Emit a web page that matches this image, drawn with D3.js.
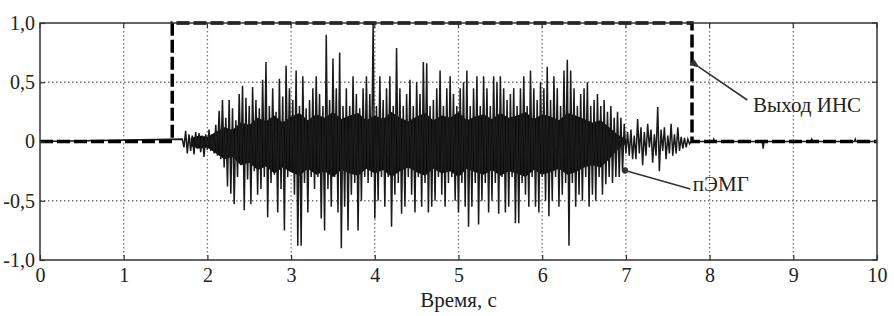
<!DOCTYPE html>
<html>
<head>
<meta charset="utf-8">
<script src="https://cdn.jsdelivr.net/npm/d3@7"></script>
<style>
  body { margin: 0; background: #fff; }
  svg { display: block; }
  svg text { font-family: "Liberation Serif", "DejaVu Serif", serif; }
</style>
</head>
<body>
<svg id="chart" width="894" height="316"></svg>
<script>
// ticks
const xTicks = [0, 1, 2, 3, 4, 5, 6, 7, 8, 9, 10];
const yTicks = [-1, -0.5, 0, 0.5, 1];
const yTickLabels = ['-1,0', '-0,5', '0', '0,5', '1,0'];
const xLabel = 'Время, с';
const serif = '"Liberation Serif", "DejaVu Serif", serif';

// ИНС output (step)
const insTime = [0, 1.58, 1.58, 7.79, 7.79, 10];
const insValue = [0, 0, 1, 1, 0, 0];

// пЭМГ, sampled every 0.02 s starting at 1.70 s
const emgStart = 1.70;
const emgStep = 0.02;
const emgValues = [
    0.02, -0.05, 0.09, -0.10, 0.06, -0.08, 0.05, -0.11, 0.08, -0.06,
    0.07, -0.09, 0.05, -0.13, 0.06, -0.07, 0.10, -0.08, 0.06, -0.10,
    0.14, -0.12, 0.26, -0.15, 0.35, -0.22, 0.20, -0.38, 0.35, -0.44,
    0.28, -0.53, 0.18, -0.30, 0.40, -0.20, 0.47, -0.58, 0.37, -0.32,
    0.30, -0.53, 0.46, -0.25, 0.35, -0.45, 0.28, -0.40, 0.52, -0.30,
    0.67, -0.64, 0.30, -0.35, 0.45, -0.28, 0.25, -0.60, 0.53, -0.40,
    0.38, -0.75, 0.64, -0.30, 0.45, -0.25, 0.35, -0.45, 0.60, -0.88,
    0.30, -0.88, 0.55, -0.35, 0.28, -0.60, 0.35, -0.30, 0.45, -0.40,
    0.55, -0.30, 0.40, -0.65, 0.30, -0.75, 0.90, -0.40, 0.35, -0.55,
    0.70, -0.30, 0.45, -0.60, 0.75, -0.90, 0.30, -0.55, 0.45, -0.75,
    0.30, -0.45, 0.55, -0.35, 0.40, -0.75, 0.28, -0.50, 0.45, -0.30,
    0.55, -0.35, 0.40, -0.30, 1.00, -0.65, 0.30, -0.50, 0.55, -0.30,
    0.35, -0.55, 0.45, -0.30, 0.55, -0.72, 0.30, -0.45, 0.79, -0.35,
    0.45, -0.61, 0.30, -0.55, 0.40, -0.30, 0.52, -0.45, 0.30, -0.60,
    0.50, -0.30, 0.40, -0.55, 0.67, -0.35, 0.66, -0.60, 0.30, -0.55,
    0.35, -0.50, 0.45, -0.30, 0.60, -0.45, 0.30, -0.55, 0.45, -0.35,
    0.55, -0.30, 0.40, -0.50, 0.30, -0.60, 0.45, -0.35, 0.50, -0.55,
    0.60, -0.72, 0.30, -0.55, 0.45, -0.35, 0.55, -0.70, 0.30, -0.50,
    0.55, -0.35, 0.45, -0.60, 0.30, -0.50, 0.55, -0.35, 0.50, -0.61,
    0.55, -0.30, 0.45, -0.60, 0.35, -0.55, 0.40, -0.30, 0.45, -0.69,
    0.30, -0.69, 0.45, -0.35, 0.55, -0.45, 0.30, -0.55, 0.60, -0.30,
    0.45, -0.55, 0.35, -0.60, 0.50, -0.30, 0.45, -0.50, 0.63, -0.63,
    0.35, -0.50, 0.55, -0.30, 0.45, -0.55, 0.30, -0.45, 0.60, -0.35,
    0.69, -0.88, 0.60, -0.35, 0.45, -0.55, 0.30, -0.45, 0.40, -0.50,
    0.45, -0.30, 0.50, -0.55, 0.30, -0.45, 0.35, -0.50, 0.40, -0.30,
    0.30, -0.45, 0.35, -0.36, 0.25, -0.30, 0.30, -0.35, 0.20, -0.30,
    0.25, -0.30, 0.20, -0.25, 0.15, -0.10, 0.08, -0.12, 0.10, -0.15,
    0.05, -0.15, 0.19, -0.10, 0.12, -0.20, 0.08, -0.12, 0.15, -0.05,
    0.10, -0.18, 0.06, -0.12, 0.29, -0.25, 0.10, -0.08, 0.12, -0.15,
    0.05, -0.10, 0.15, -0.12, 0.06, -0.10, 0.12, -0.08, 0.04, -0.06,
    0.03, -0.05, 0.02, -0.02, 0.00
];
// dense black core of the burst, read every 0.1 s (jagged edge)
const coreStart = 1.8;
const coreStep = 0.1;
const coreTop = [
    0.03, 0.05, 0.04, 0.08, 0.12, 0.10, 0.16, 0.14, 0.20, 0.17,
    0.22, 0.16, 0.21, 0.24, 0.18, 0.23, 0.20, 0.25, 0.19, 0.22,
    0.24, 0.18, 0.22, 0.19, 0.25, 0.20, 0.17, 0.21, 0.24, 0.18,
    0.22, 0.20, 0.25, 0.18, 0.21, 0.23, 0.19, 0.24, 0.20, 0.22,
    0.25, 0.19, 0.23, 0.21, 0.18, 0.24, 0.22, 0.19, 0.16, 0.18,
    0.12, 0.06, 0.02
];
const coreBottom = [
    -0.04, -0.06, -0.05, -0.10, -0.15, -0.13, -0.20, -0.18, -0.24, -0.21,
    -0.27, -0.22, -0.26, -0.29, -0.23, -0.28, -0.25, -0.30, -0.24, -0.27,
    -0.29, -0.23, -0.27, -0.24, -0.30, -0.25, -0.22, -0.26, -0.29, -0.23,
    -0.27, -0.25, -0.30, -0.23, -0.26, -0.28, -0.24, -0.29, -0.25, -0.27,
    -0.30, -0.24, -0.28, -0.26, -0.23, -0.28, -0.26, -0.22, -0.20, -0.22,
    -0.15, -0.07, -0.02
];
// small blips on the baseline after the burst
const blipTime = [8.05, 8.64, 9.22, 9.74];
const blipValue = [0.02, -0.06, 0.02, 0.02];

// annotations: arrow tip, arrow tail, text anchor (data units)
const notes = [
    { text: 'Выход ИНС', tip: [7.87, 0.63], tail: [8.45, 0.35], pos: [8.52, 0.245], arrow: true },
    { text: 'пЭМГ', tip: [6.99, -0.245], tail: [7.77, -0.40], pos: [7.80, -0.415], arrow: false }
];

class Chart {
    constructor() {
        this.svg = d3.select('#chart');
        this.margin = { left: 40, right: 17, top: 23, bottom: 56 };
        this.width = 894 - this.margin.left - this.margin.right;
        this.height = 316 - this.margin.top - this.margin.bottom;

        this.scaleX = d3.scaleLinear().domain([0, 10]).range([0, this.width]);
        this.scaleY = d3.scaleLinear().domain([-1, 1]).range([this.height, 0]);

        this.g = this.svg.append('g')
            .attr('transform', `translate(${this.margin.left},${this.margin.top})`);

        this.drawGrid();
        this.drawSignals();
        this.drawFrame();
        this.drawNotes();
    }

    drawGrid() {
        let grid = this.g.append('g');
        grid.selectAll('line.gx')
            .data(xTicks.filter(d => d > 0 && d < 10))
            .join('line')
            .attr('x1', d => this.scaleX(d))
            .attr('x2', d => this.scaleX(d))
            .attr('y1', 0)
            .attr('y2', this.height)
            .style('stroke', '#777')
            .style('stroke-width', 1.3)
            .style('stroke-dasharray', '1.5,2.5');
        grid.selectAll('line.gy')
            .data(yTicks.filter(d => d !== 0 && Math.abs(d) < 1))
            .join('line')
            .attr('x1', 0)
            .attr('x2', this.width)
            .attr('y1', d => this.scaleY(d))
            .attr('y2', d => this.scaleY(d))
            .style('stroke', '#777')
            .style('stroke-width', 1.3)
            .style('stroke-dasharray', '1.5,2.5');
    }

    drawSignals() {
        let emg = [[0, 0]];
        emgValues.forEach((v, i) => emg.push([emgStart + i * emgStep, v]));
        blipTime.forEach((t, i) => {
            emg.push([t - 0.01, 0]);
            emg.push([t, blipValue[i]]);
            emg.push([t + 0.01, 0]);
        });
        emg.push([10, 0]);

        let line = d3.line()
            .x(d => this.scaleX(d[0]))
            .y(d => this.scaleY(d[1]));

        let area = d3.area()
            .x((d, i) => this.scaleX(coreStart + i * coreStep))
            .y0((d, i) => this.scaleY(coreBottom[i]))
            .y1(d => this.scaleY(d));

        this.g.append('path')
            .attr('d', area(coreTop))
            .style('fill', '#0a0a0a');

        this.g.append('path')
            .attr('d', line(emg))
            .style('fill', 'none')
            .style('stroke', '#1a1a1a')
            .style('stroke-width', 1.5);

        let ins = insTime.map((t, i) => [t, insValue[i]]);
        this.g.append('path')
            .attr('d', line(ins))
            .style('fill', 'none')
            .style('stroke', '#000')
            .style('stroke-width', 3.5)
            .style('stroke-dasharray', '13,4');
    }

    drawFrame() {
        let xAxis = d3.axisBottom(this.scaleX)
            .tickValues(xTicks)
            .tickSize(-5)
            .tickPadding(8)
            .tickFormat(d => d);
        let ax = this.g.append('g')
            .attr('transform', `translate(0,${this.height})`)
            .call(xAxis)
            .attr('font-family', serif);
        ax.select('.domain').remove();
        ax.selectAll('line').style('stroke', '#333').style('stroke-width', 1.2);
        ax.selectAll('text')
            .style('font-family', serif)
            .style('font-size', '20px')
            .style('fill', '#222');

        let yAxis = d3.axisLeft(this.scaleY)
            .tickValues(yTicks)
            .tickSize(-5)
            .tickPadding(5)
            .tickFormat((d, i) => yTickLabels[i]);
        let ay = this.g.append('g').call(yAxis)
            .attr('font-family', serif);
        ay.select('.domain').remove();
        ay.selectAll('line').style('stroke', '#333').style('stroke-width', 1.2);
        ay.selectAll('text')
            .style('font-family', serif)
            .style('font-size', '20px')
            .style('fill', '#222');

        // inward ticks on top and right edges
        this.g.append('g').selectAll('line')
            .data(xTicks)
            .join('line')
            .attr('x1', d => this.scaleX(d))
            .attr('x2', d => this.scaleX(d))
            .attr('y1', 0)
            .attr('y2', 5)
            .style('stroke', '#333')
            .style('stroke-width', 1.2);
        this.g.append('g').selectAll('line')
            .data(yTicks)
            .join('line')
            .attr('x1', this.width - 5)
            .attr('x2', this.width)
            .attr('y1', d => this.scaleY(d))
            .attr('y2', d => this.scaleY(d))
            .style('stroke', '#333')
            .style('stroke-width', 1.2);

        this.g.append('rect')
            .attr('width', this.width)
            .attr('height', this.height)
            .style('fill', 'none')
            .style('stroke', '#333')
            .style('stroke-width', 1.5);

        this.g.append('text')
            .attr('x', this.width / 2)
            .attr('y', this.height + 47)
            .attr('text-anchor', 'middle')
            .style('font-family', serif)
            .style('font-size', '21px')
            .style('fill', '#222')
            .text(xLabel);
    }

    drawNotes() {
        let defs = this.svg.append('defs');
        defs.append('marker')
            .attr('id', 'arrow')
            .attr('viewBox', '0 0 10 10')
            .attr('refX', 1)
            .attr('refY', 5)
            .attr('markerWidth', 6)
            .attr('markerHeight', 6)
            .attr('orient', 'auto-start-reverse')
            .append('path')
            .attr('d', 'M0,5 L10,1 L10,9 Z')
            .style('fill', '#333');
        defs.append('marker')
            .attr('id', 'dot')
            .attr('viewBox', '0 0 10 10')
            .attr('refX', 5)
            .attr('refY', 5)
            .attr('markerWidth', 4)
            .attr('markerHeight', 4)
            .append('circle')
            .attr('cx', 5).attr('cy', 5).attr('r', 5)
            .style('fill', '#333');

        for (let n of notes) {
            this.g.append('line')
                .attr('x1', this.scaleX(n.tip[0]))
                .attr('y1', this.scaleY(n.tip[1]))
                .attr('x2', this.scaleX(n.tail[0]))
                .attr('y2', this.scaleY(n.tail[1]))
                .attr('marker-start', n.arrow ? 'url(#arrow)' : 'url(#dot)')
                .style('stroke', '#333')
                .style('stroke-width', 1.6);
            this.g.append('text')
                .attr('x', this.scaleX(n.pos[0]))
                .attr('y', this.scaleY(n.pos[1]))
                .style('font-family', serif)
                .style('font-size', '21px')
                .style('fill', '#222')
                .text(n.text);
        }
    }
}

new Chart();
</script>
</body>
</html>
